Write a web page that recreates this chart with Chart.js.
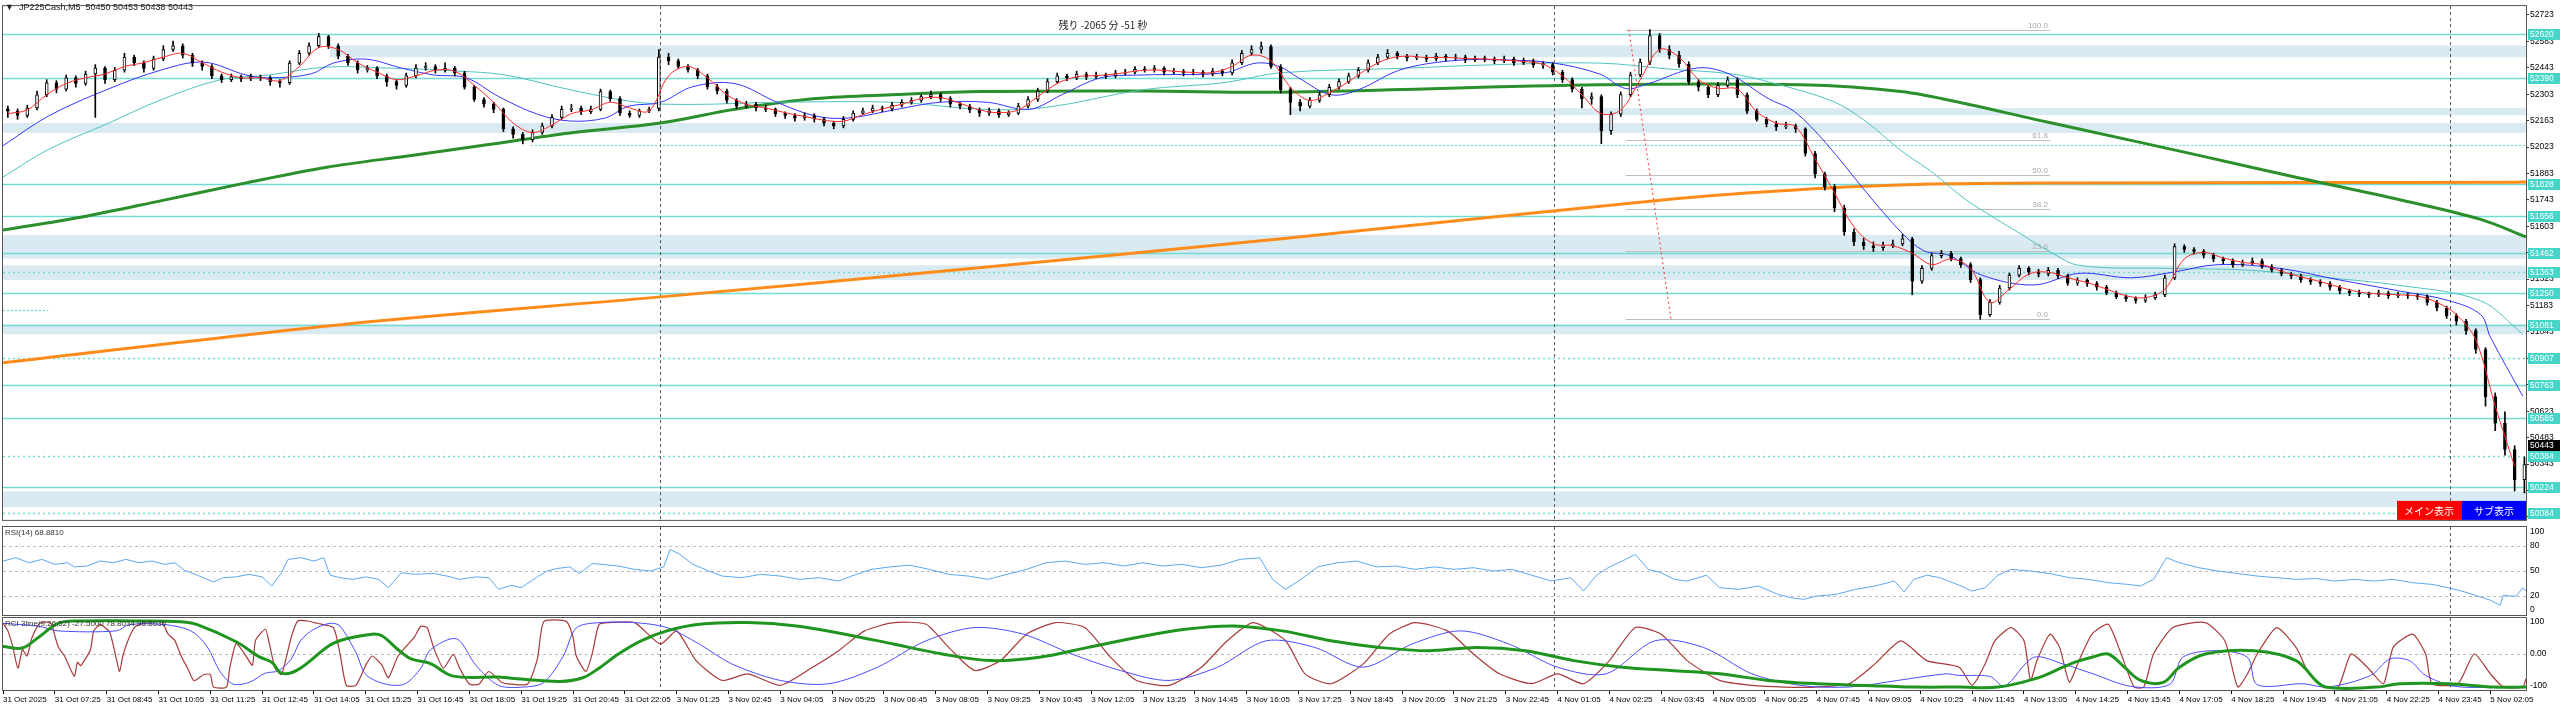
<!DOCTYPE html>
<html><head><meta charset="utf-8">
<script src="https://cdn.jsdelivr.net/npm/chart.js@4.4.1/dist/chart.umd.min.js"></script>
<style>
html,body{margin:0;padding:0;background:#fff;overflow:hidden;width:2560px;height:709px}
canvas{position:absolute;left:0}
#main{top:0}#rsi{top:526px}#rci{top:617px}
</style></head><body>
<canvas id="main" width="2560" height="526"></canvas>
<canvas id="rsi" width="2560" height="91"></canvas>
<canvas id="rci" width="2560" height="92"></canvas>
<script>
// --- ローソク足 (3本まとめ、M5) ---
const opens = [52225,52213,52190,52230,52300,52364,52330,52390,52360,52410,
52442,52380,52430,52500,52470,52440,52490,52540,52560,52510,
52468,52450,52400,52380,52395,52385,52395,52390,52370,52364,
52468,52520,52560,52608,52560,52504,52470,52432,52440,52400,
52370,52350,52400,52442,52450,52430,52440,52416,52340,52275,
52250,52223,52119,52090,52062,52100,52135,52180,52223,52230,
52210,52223,52317,52280,52203,52190,52215,52228,52500,52480,
52450,52432,52400,52343,52320,52270,52239,52250,52230,52223,
52200,52190,52177,52190,52171,52150,52135,52170,52203,52215,
52230,52225,52245,52260,52270,52290,52301,52280,52250,52239,
52220,52203,52215,52195,52203,52240,52275,52320,52370,52400,
52390,52410,52395,52405,52400,52415,52420,52435,52432,52440,
52420,52425,52416,52420,52410,52425,52416,52470,52520,52540,
52556,52450,52327,52260,52240,52270,52300,52340,52370,52400,
52430,52470,52500,52520,52505,52495,52500,52490,52505,52495,
52500,52485,52495,52490,52480,52490,52470,52480,52460,52460,
52420,52380,52330,52280,52290,52110,52197,52301,52405,52473,
52614,52540,52510,52463,52369,52340,52301,52350,52379,52300,
52213,52170,52145,52130,52135,52119,51989,51880,51812,51700,
51573,51520,51500,51490,51500,51510,51536,51312,51380,51448,
51460,51432,51400,51320,51135,51200,51276,51344,51380,51360,
51350,51370,51340,51302,51318,51300,51280,51250,51230,51220,
51210,51225,51240,51330,51495,51480,51470,51450,51430,51420,
51400,51410,51420,51390,51370,51350,51340,51320,51310,51300,
51280,51260,51250,51245,51240,51250,51235,51240,51235,51230,
51200,51170,51130,51100,51050,50950,50700,50560,50420,50260];
const highs = [52240,52225,52245,52320,52380,52375,52405,52400,52425,52460,
52450,52445,52520,52510,52480,52505,52560,52585,52570,52520,
52480,52460,52410,52410,52405,52410,52405,52400,52380,52480,
52535,52575,52625,52615,52570,52515,52480,52455,52450,52410,
52380,52415,52460,52470,52460,52470,52450,52425,52350,52285,
52260,52230,52130,52100,52115,52150,52195,52240,52250,52240,
52240,52330,52325,52290,52215,52225,52235,52540,52520,52490,
52460,52440,52410,52355,52330,52280,52265,52260,52245,52230,
52210,52200,52205,52200,52180,52160,52185,52215,52230,52245,
52240,52260,52275,52285,52300,52320,52310,52290,52260,52250,
52230,52230,52225,52215,52255,52290,52335,52385,52415,52410,
52425,52420,52420,52415,52430,52435,52450,52450,52455,52450,
52440,52435,52435,52430,52440,52435,52485,52535,52560,52580,
52565,52460,52340,52275,52285,52315,52355,52385,52415,52445,
52485,52515,52540,52530,52515,52515,52510,52520,52515,52515,
52510,52505,52505,52500,52505,52500,52495,52490,52475,52470,
52430,52390,52340,52310,52300,52210,52315,52420,52490,52645,
52625,52560,52530,52475,52380,52350,52365,52395,52390,52310,
52225,52180,52160,52155,52145,52125,52000,51890,51825,51715,
51590,51540,51520,51520,51530,51560,51545,51395,51460,51475,
51470,51440,51410,51330,51215,51290,51355,51395,51390,51375,
51385,51380,51350,51330,51325,51310,51290,51260,51240,51230,
51240,51255,51345,51510,51505,51490,51480,51460,51440,51430,
51425,51435,51430,51400,51380,51360,51350,51330,51320,51310,
51290,51270,51265,51255,51265,51260,51255,51250,51245,51240,
51210,51180,51140,51110,51060,50960,50720,50620,50440,50380];
const lows = [52180,52170,52180,52220,52290,52310,52320,52340,52350,52180,
52360,52370,52420,52455,52420,52430,52480,52530,52495,52450,
52430,52385,52365,52370,52370,52375,52375,52350,52340,52355,
52460,52510,52550,52545,52490,52455,52415,52420,52385,52345,
52330,52340,52390,52430,52415,52420,52400,52330,52265,52235,
52205,52105,52070,52040,52050,52090,52125,52170,52210,52195,
52200,52215,52265,52190,52180,52180,52205,52215,52460,52440,
52420,52385,52330,52305,52255,52225,52230,52215,52210,52185,
52175,52160,52165,52155,52135,52120,52125,52160,52195,52205,
52210,52215,52235,52250,52260,52280,52265,52235,52225,52205,
52185,52190,52180,52185,52195,52230,52265,52310,52360,52375,
52380,52380,52385,52385,52390,52405,52410,52420,52420,52405,
52410,52400,52405,52395,52400,52400,52405,52460,52510,52520,
52440,52310,52195,52215,52230,52260,52290,52330,52360,52390,
52420,52460,52490,52490,52480,52485,52475,52480,52480,52485,
52470,52475,52475,52465,52470,52455,52460,52445,52440,52405,
52365,52315,52230,52250,52041,52090,52185,52290,52395,52460,
52525,52490,52445,52355,52320,52285,52290,52340,52285,52200,
52160,52130,52110,52120,52100,51975,51860,51795,51680,51555,
51500,51480,51470,51475,51490,51500,51240,51300,51370,51435,
51420,51385,51305,51110,51125,51190,51265,51335,51345,51335,
51340,51325,51290,51290,51285,51265,51240,51220,51205,51195,
51200,51215,51230,51320,51465,51455,51435,51415,51405,51385,
51390,51400,51380,51360,51340,51325,51305,51295,51285,51265,
51245,51235,51230,51225,51230,51220,51225,51220,51215,51185,
51155,51115,51080,51030,50930,50650,50520,50390,50200,50190];
const closes = [52213,52190,52230,52300,52364,52330,52390,52360,52410,52442,
52380,52430,52500,52470,52440,52490,52540,52560,52510,52468,
52450,52400,52380,52395,52385,52395,52390,52370,52364,52468,
52520,52560,52608,52560,52504,52470,52432,52440,52400,52370,
52350,52400,52442,52450,52430,52440,52416,52340,52275,52250,
52223,52119,52090,52062,52100,52135,52180,52223,52230,52210,
52223,52317,52280,52203,52190,52215,52223,52500,52480,52450,
52432,52400,52343,52320,52270,52239,52250,52230,52223,52200,
52190,52177,52190,52171,52150,52135,52170,52203,52215,52230,
52225,52245,52260,52270,52290,52301,52280,52250,52239,52220,
52203,52215,52195,52203,52240,52275,52320,52370,52400,52390,
52410,52395,52405,52400,52415,52420,52435,52432,52440,52420,
52425,52416,52420,52410,52425,52416,52470,52520,52540,52556,
52450,52327,52260,52240,52270,52300,52340,52370,52400,52430,
52470,52500,52520,52505,52495,52500,52490,52505,52495,52500,
52485,52495,52490,52480,52490,52470,52480,52460,52460,52420,
52380,52330,52280,52290,52110,52197,52301,52405,52473,52614,
52540,52510,52463,52369,52340,52301,52350,52379,52300,52213,
52170,52145,52130,52135,52119,51989,51880,51812,51700,51573,
51520,51500,51490,51500,51510,51536,51312,51380,51448,51460,
51432,51400,51320,51135,51200,51276,51344,51380,51360,51350,
51370,51340,51302,51318,51300,51280,51250,51230,51220,51210,
51225,51240,51330,51495,51480,51470,51450,51430,51420,51400,
51410,51420,51390,51370,51350,51340,51320,51310,51300,51280,
51260,51250,51245,51240,51250,51235,51240,51235,51230,51200,
51170,51130,51100,51050,50950,50700,50560,50420,50260,50340];

// 短期MA (赤) : ローソク2本ごと
const redMA = [52200,52220,52300,52360,52390,52410,52450,52470,52500,52520,
52470,52420,52390,52390,52375,52450,52550,52540,52470,52420,
52380,52400,52430,52425,52350,52260,52150,52100,52140,52200,
52220,52260,52230,52215,52400,52450,52390,52300,52250,52230,
52205,52185,52165,52160,52195,52225,52250,52280,52285,52255,
52220,52205,52220,52290,52360,52395,52402,52410,52425,52432,
52425,52418,52418,52450,52510,52480,52340,52270,52310,52370,
52440,52490,52505,52497,52498,52492,52490,52484,52476,52462,
52400,52300,52200,52220,52380,52540,52500,52380,52335,52330,
52210,52150,52130,51960,51780,51600,51510,51500,51460,51400,
51430,51380,51200,51270,51350,51360,51330,51305,51270,51235,
51225,51270,51430,51465,51435,51412,51400,51365,51335,51310,
51280,51255,51245,51240,51233,51200,51135,51000,50650,50330];

// 中期MA (青) : 足番号, 値
const blueBars = [0,14,32,49,62,75,82,95,102,112,123,133,143,153,165,175,186,193,203,213,226,239,251,261,276,289,304,317,327,339,352,377,387,394,400,410,419,431,447,462,478,493,501,508,523,533,545,553,563,575,586,593,601,611,627,641,657,670,684,703,721,740,755,765,768,778];
const blueVals = [52030,52187,52327,52432,52473,52405,52390,52410,52468,52489,52442,52405,52390,52291,52197,52161,52177,52239,52260,52343,52359,52260,52187,52177,52223,52260,52260,52223,52301,52390,52405,52416,52468,52450,52390,52300,52330,52430,52480,52485,52470,52410,52333,52359,52442,52410,52280,52213,52041,51790,51573,51474,51448,51344,51292,51354,51330,51360,51400,51380,51320,51260,51210,51135,51016,50703];
// 長めMA (水色)
const tealBars = [0,14,32,49,67,82,100,118,140,155,175,196,213,239,276,302,322,352,377,394,431,462,493,514,534,545,565,575,586,596,606,622,632,641,669,694,718,740,765,778];
const tealVals = [51864,52010,52145,52275,52379,52405,52447,52442,52426,52405,52327,52260,52249,52260,52260,52223,52233,52327,52364,52416,52440,52460,52468,52437,52410,52369,52265,52161,52005,51885,51745,51573,51469,51396,51380,51370,51330,51290,51208,51031];
// 長期MA (緑・太)
const greenBars = [0,24,49,75,100,125,150,175,203,226,251,276,302,352,394,493,555,586,607,627,641,678,709,740,765,779];
const greenVals = [51583,51651,51739,51833,51916,51976,52036,52098,52150,52223,52280,52301,52317,52320,52314,52353,52353,52317,52249,52171,52119,51979,51859,51744,51640,51547];
// 超長期MA (オレンジ・太)
const orangeBars = [0,105,203,289,394,517,565,600,641,709,775,779];
const orangeVals = [50880,51083,51229,51363,51536,51750,51807,51828,51833,51835,51836,51838];

// 水平線と価格ラベル
const levelPrices = [52620,52390,51828,51656,51462,51363,51250,51081,50907,50763,50585,50384,50224,50084];
const levelStyle = ['solid','solid','solid','solid','solid','dash','solid','solid','dash','solid','solid','dash','solid','dash'];
const extraLevels = [52033, 51157];
const extraFrom = [163, 0];
const extraTo = [779, 14];
const lastPrice = 50443;
// ゾーン (帯)
const bandLow = [52499,52192,52098,51432,51318,51031,50115];
const bandHigh = [52561,52229,52150,51557,51396,51083,50198];
const bandStart = [101,397,0,0,0,0,0];
// フィボナッチ
const fibLevels = [100, 61.8, 50, 38.2, 23.6, 0];
const fibHigh = 52645, fibLow = 51110, fibFrom = 501, fibTo = 632;
const fibDiag = [502, 515];

const yTicks = [52723,52583,52443,52303,52163,52023,51883,51743,51603,51463,51323,51183,51043,50903,50763,50623,50483,50343,50203,50063];
const daySeps = [203, 479, 755.5];
const timeLabels = ["31 Oct 2025","31 Oct 07:25","31 Oct 08:45","31 Oct 10:05","31 Oct 11:25","31 Oct 12:45","31 Oct 14:05","31 Oct 15:25","31 Oct 16:45","31 Oct 18:05","31 Oct 19:25","31 Oct 20:45","31 Oct 22:05","3 Nov 01:25","3 Nov 02:45","3 Nov 04:05","3 Nov 05:25","3 Nov 06:45","3 Nov 08:05","3 Nov 09:25","3 Nov 10:45","3 Nov 12:05","3 Nov 13:25","3 Nov 14:45","3 Nov 16:05","3 Nov 17:25","3 Nov 18:45","3 Nov 20:05","3 Nov 21:25","3 Nov 22:45","4 Nov 01:05","4 Nov 02:25","4 Nov 03:45","4 Nov 05:05","4 Nov 06:25","4 Nov 07:45","4 Nov 09:05","4 Nov 10:25","4 Nov 11:45","4 Nov 13:05","4 Nov 14:25","4 Nov 15:45","4 Nov 17:05","4 Nov 18:25","4 Nov 19:45","4 Nov 21:05","4 Nov 22:25","4 Nov 23:45","5 Nov 02:05"];

// RSI(14)
const rsiBars = [0,4,8,12,16,20,22,26,30,34,38,42,46,50,53,56,60,65,68,72,76,80,83,86,88,92,96,99,101,104,108,112,116,119,123,127,133,137,141,146,150,153,157,160,165,168,171,175,178,182,185,190,195,200,204,206,209,213,218,222,228,234,240,246,252,258,262,268,274,280,286,292,298,304,310,316,322,328,334,340,346,352,358,364,370,376,382,388,392,396,400,406,412,418,424,430,436,442,448,454,460,466,472,478,484,488,492,496,500,504,508,512,516,520,526,530,536,542,548,552,556,560,566,572,578,584,587,590,594,598,604,608,612,616,620,626,632,638,644,650,656,660,664,668,672,678,684,690,696,702,708,714,720,726,732,738,744,750,755,760,764,768,771,772,774,776,778,779];
const rsiVals = [62,66,60,64,58,60,55,56,62,60,64,60,62,58,60,51,45,37,42,43,46,43,32,48,64,66,62,66,45,42,40,43,40,30,48,46,47,44,40,43,42,28,33,30,43,50,53,55,47,59,58,56,52,50,55,76,70,58,50,44,42,46,44,40,42,38,44,52,55,57,52,46,44,40,46,52,60,62,58,60,56,60,56,58,54,57,64,66,40,28,38,55,60,62,55,56,52,55,52,54,50,52,45,38,42,26,45,55,62,70,52,48,40,38,45,30,28,32,22,18,16,20,22,28,32,38,25,40,45,42,33,26,30,45,52,50,47,42,40,36,34,32,40,66,60,54,50,47,44,42,40,41,38,40,38,40,36,34,30,25,20,15,9,21,20,20,30,26];

// RCI 3line (9,26,52)
const rciRedBars = [0,1.5,3,4.6,6,7.4,9,11,12,14,15,17,19,22,23,24,27,28,30,31,33,35,36,37,39,41,46,49,51,53,55,57,59,62,64,65,69,70,72,75,77,78,81,82,84,86,89,91,94,97,102,104,106,109,112,114,117,119,122,127,129,131,133,136,139,141,144,147,150,154,157,162,165,167,174,176,177,180,182,184,
187,195,203,208,214,222,230,240,250,258,266,275,285,292,300,308,316,325,334,342,350,360,370,378,386,396,402,410,420,428,436,446,454,462,472,480,488,496,504,512,520,530,540,550,560,570,578,586,594,
604,608,612,615,620,624,626,628,632,635,638,641,645,650,654,658,661,664,670,680,686,690,693,696,702,708,712,716,721,725,730,735,738,744,748,750,758,763,768,772,778,779];
const rciRedVals = [93,70,23,-43,13,-6,51,89,96,96,90,23,-6,-67,-25,-35,13,70,89,84,65,-15,-53,-6,51,84,98,98,60,42,-6,-43,-81,-62,-62,-100,-100,-43,32,-6,-34,42,75,42,-43,-62,51,100,100,93,80,4,-95,-95,-34,-6,-34,-72,-6,51,84,79,18,-43,-1,-43,-91,-91,-53,-86,-91,-91,-15,98,98,51,-6,-53,4,89,
95,95,30,70,-20,-80,-60,-95,-40,10,70,95,90,20,-50,-20,60,95,80,-10,-80,-95,-40,40,95,40,-60,-90,-30,60,95,70,0,-60,-90,-60,-90,-20,80,60,-20,-80,-95,-100,-100,-90,-30,40,-20,
-40,-95,-30,40,80,40,-80,-20,60,20,-85,-20,60,90,0,-100,-100,0,80,95,40,-100,-60,0,80,20,-60,-95,-100,0,-40,-90,20,60,0,-90,-90,0,-60,-100,-100,-75];
const rciBlueBars = [0,11,17,35,39,50,58,63,67,71,76,81,85,89,92,96,101,104,109,112,118,124,129,132,140,146,153,161,167,173,177,184,
195,205,215,225,240,255,270,285,300,315,330,345,360,375,390,405,420,435,450,465,480,495,510,525,540,555,570,585,600,
604,611,614,618,627,636,645,657,669,673,683,693,696,710,718,731,737,743,748,757,771,779];
const rciBlueVals = [93,84,70,70,89,89,70,23,-53,-91,-86,-58,-51,-15,42,75,93,85,4,-62,-91,-91,-43,13,46,-34,-95,-100,-86,-6,79,95,
95,80,30,-30,-80,-90,-40,40,80,60,0,-50,-80,-40,40,20,-40,30,70,30,-40,-60,40,20,-60,-95,-100,-80,-60,
-65,-65,-70,-98,-10,-30,-59,-98,-92,-10,10,-10,-93,-90,-100,-65,-15,-20,-65,-98,-100,-100];
const rciGreenBars = [0,6,11,17,23,40,55,60,72,79,83,86,91,101,106,114,117,122,126,132,139,153,160,172,179,184,
190,197,205,215,230,245,260,275,290,305,320,335,350,365,380,395,410,425,440,455,470,485,500,515,530,545,560,575,590,
604,616,628,636,640,645,650,655,660,667,672,680,695,708,717,733,740,755,769,779];
const rciGreenVals = [23,18,51,93,100,100,98,89,37,-8,-25,-58,-48,27,46,60,55,13,-15,-29,-67,-70,-76,-83,-72,-43,
0,40,70,90,95,85,60,30,0,-20,-10,20,50,75,85,70,40,20,10,20,10,-20,-40,-50,-60,-80,-90,-95,-100,
-100,-100,-73,-40,-24,-10,0,-40,-80,-86,-40,0,10,-20,-100,-100,-90,-90,-100,-100];

const FAM = '"Liberation Sans", "DejaVu Sans", Arial, sans-serif';
const JP = '"Noto Sans CJK JP", "Noto Sans", sans-serif';
const pts = (bars, vals) => bars.map((b, k) => ({ x: b, y: vals[k] }));
const lineDs = (data, color, width) => ({ type: 'line', data, borderColor: color, borderWidth: width, pointRadius: 0, tension: 0.35, fill: false });
const xHidden = { type: 'linear', min: 0, max: 779, display: false, offset: false, grid: { offset: false } };
const rightAxis = (min, max, extra) => Object.assign({
  type: 'linear', position: 'right', min, max,
  afterFit: s => { s.width = 34; },
  grid: { drawOnChartArea: false, drawTicks: false },
  border: { color: '#555' },
  ticks: { display: false }
}, extra || {});

function vline(ctx, a, x, dash, color) {
  ctx.save(); ctx.strokeStyle = color; ctx.lineWidth = 1; ctx.setLineDash(dash);
  ctx.beginPath(); ctx.moveTo(Math.round(x) + 0.5, a.top); ctx.lineTo(Math.round(x) + 0.5, a.bottom); ctx.stroke(); ctx.restore();
}
function hline(ctx, x0, x1, y, dash, color, w) {
  ctx.save(); ctx.strokeStyle = color; ctx.lineWidth = w; ctx.setLineDash(dash);
  ctx.beginPath(); ctx.moveTo(x0, y); ctx.lineTo(x1, y); ctx.stroke(); ctx.restore();
}
function frame(ctx, a) {
  ctx.save(); ctx.strokeStyle = '#555'; ctx.lineWidth = 1;
  ctx.strokeRect(a.left - 0.5, a.top - 0.5, a.right - a.left + 1, a.bottom - a.top + 1); ctx.restore();
}

// --- メインチャート ---
const mainDeco = {
  id: 'mainDeco',
  beforeDatasetsDraw(chart) {
    const { ctx, chartArea: a, scales: { x, y } } = chart;
    ctx.save();
    ctx.beginPath(); ctx.rect(a.left, a.top, a.right - a.left, a.bottom - a.top); ctx.clip();
    ctx.fillStyle = '#d9eaf2';
    bandLow.forEach((lo, k) => {
      const x0 = x.getPixelForValue(bandStart[k]);
      const yt = y.getPixelForValue(bandHigh[k]), yb = y.getPixelForValue(lo);
      ctx.fillRect(x0, yt, a.right - x0, yb - yt);
    });
    levelPrices.forEach((p, k) => {
      const yy = Math.round(y.getPixelForValue(p)) + 0.5;
      hline(ctx, a.left, a.right, yy, levelStyle[k] === 'solid' ? [] : [2, 3], '#70dcd3', 1.5);
    });
    extraLevels.forEach((p, k) => {
      const yy = Math.round(y.getPixelForValue(p)) + 0.5;
      hline(ctx, x.getPixelForValue(extraFrom[k]), x.getPixelForValue(extraTo[k]), yy, [2, 2], '#70dcd3', 1.2);
    });
    daySeps.forEach(b => vline(ctx, a, x.getPixelForValue(b), [3, 3], '#555'));
    const fx0 = x.getPixelForValue(fibFrom), fx1 = x.getPixelForValue(fibTo);
    ctx.font = '8px ' + FAM; ctx.fillStyle = '#aaa'; ctx.textAlign = 'right'; ctx.textBaseline = 'bottom';
    fibLevels.forEach(l => {
      const yy = Math.round(y.getPixelForValue(fibLow + (fibHigh - fibLow) * l / 100)) + 0.5;
      hline(ctx, fx0, fx1, yy, [], '#bdbdbd', 1);
      ctx.fillText(l.toFixed(1), fx1 - 2, yy - 1);
    });
    ctx.strokeStyle = '#ff3030'; ctx.lineWidth = 1; ctx.setLineDash([2, 3]);
    ctx.beginPath(); ctx.moveTo(x.getPixelForValue(fibDiag[0]), y.getPixelForValue(fibHigh));
    ctx.lineTo(x.getPixelForValue(fibDiag[1]), y.getPixelForValue(fibLow)); ctx.stroke();
    ctx.restore();
  },
  afterDraw(chart) {
    const { ctx, chartArea: a, scales: { y } } = chart;
    ctx.save();
    frame(ctx, a);
    ctx.font = '8.5px ' + FAM; ctx.textBaseline = 'middle'; ctx.textAlign = 'left';
    levelPrices.forEach(p => {
      const yy = Math.round(y.getPixelForValue(p));
      ctx.fillStyle = '#46d6c9'; ctx.fillRect(a.right + 2, yy - 5, 32, 11);
      ctx.fillStyle = '#fff'; ctx.fillText(String(p), a.right + 4, yy + 0.5);
    });
    const yl = Math.round(y.getPixelForValue(lastPrice));
    ctx.fillStyle = '#000'; ctx.fillRect(a.right + 2, yl - 5, 32, 11);
    ctx.fillStyle = '#fff'; ctx.fillText(String(lastPrice), a.right + 4, yl + 0.5);
    // ヘッダー
    ctx.fillStyle = '#222'; ctx.font = '9px ' + FAM;
    ctx.fillText('\u25BC  JP225Cash,M5  50450 50453 50438 50443', 5, 8);
    ctx.font = '10px ' + JP; ctx.textAlign = 'center';
    ctx.fillText('残り -2065 分 -51 秒', 1103, 25);
    // ボタン
    ctx.fillStyle = '#ff0000'; ctx.fillRect(2397, a.bottom - 19, 65, 19);
    ctx.fillStyle = '#0000ff'; ctx.fillRect(2462, a.bottom - 19, 64, 19);
    ctx.fillStyle = '#fff';
    ctx.fillText('メイン表示', 2429, a.bottom - 9);
    ctx.fillText('サブ表示', 2494, a.bottom - 9);
    ctx.restore();
  }
};

new Chart(document.getElementById('main'), {
  type: 'bar',
  data: {
    datasets: [
      lineDs(pts(redMA.map((v, j) => j * 6 + 1.5), redMA), '#ff2a2a', 1),
      { type: 'bar', data: closes.map((c, i) => ({ x: i * 3 + 1.5, y: [opens[i], c] })), grouped: false, barThickness: 3,
        backgroundColor: closes.map((c, i) => c >= opens[i] ? '#ffffff' : '#000000'), borderColor: '#000', borderWidth: 1, borderSkipped: false, minBarLength: 1 },
      { type: 'bar', data: closes.map((c, i) => ({ x: i * 3 + 1.5, y: [lows[i], highs[i]] })), grouped: false, barThickness: 1, backgroundColor: '#000' },
      lineDs(pts(blueBars, blueVals), '#3434ff', 1),
      lineDs(pts(tealBars, tealVals), '#4fc4c0', 1),
      lineDs(pts(greenBars, greenVals), '#2b8f2b', 3),
      lineDs(pts(orangeBars, orangeVals), '#ff8c1a', 3)
    ]
  },
  options: {
    responsive: false, animation: false, devicePixelRatio: 1,
    layout: { padding: { left: 3, top: 3, right: 0, bottom: 1 } },
    plugins: { legend: { display: false }, tooltip: { enabled: false } },
    scales: {
      x: xHidden,
      y: rightAxis(50047, 52770, {
        afterBuildTicks: s => { s.ticks = yTicks.map(v => ({ value: v })); },
        grid: { drawOnChartArea: false, drawTicks: true, tickLength: 3, color: '#333' },
        ticks: { display: true, padding: 1, color: '#000', font: { family: FAM, size: 8.5 }, callback: v => String(v) }
      })
    }
  },
  plugins: [mainDeco]
});

// --- RSI ---
const rsiDeco = {
  id: 'rsiDeco',
  beforeDatasetsDraw(chart) {
    const { ctx, chartArea: a, scales: { x, y } } = chart;
    [80, 50, 20].forEach(v => hline(ctx, a.left, a.right, Math.round(y.getPixelForValue(v)) + 0.5, [3, 3], '#bbb', 1));
    daySeps.forEach(b => vline(ctx, a, x.getPixelForValue(b), [3, 3], '#555'));
  },
  afterDraw(chart) {
    const { ctx, chartArea: a, scales: { y } } = chart;
    frame(ctx, a);
    ctx.save(); ctx.font = '8.5px ' + FAM; ctx.fillStyle = '#000'; ctx.textBaseline = 'middle'; ctx.textAlign = 'left';
    [100, 80, 50, 20, 0].forEach(v => {
      const yy = Math.min(a.bottom - 5, Math.max(a.top + 5, y.getPixelForValue(v)));
      ctx.fillText(String(v), a.right + 4, yy);
    });
    ctx.fillStyle = '#333'; ctx.font = '8px ' + FAM;
    ctx.fillText('RSI(14) 68.8810', a.left + 2, a.top + 6);
    ctx.restore();
  }
};
new Chart(document.getElementById('rsi'), {
  type: 'line',
  data: { datasets: [ { data: pts(rsiBars, rsiVals), borderColor: '#5aa8f2', borderWidth: 1, pointRadius: 0, tension: 0 } ] },
  options: {
    responsive: false, animation: false, devicePixelRatio: 1,
    layout: { padding: { left: 3, top: 1, right: 0, bottom: 2 } },
    plugins: { legend: { display: false }, tooltip: { enabled: false } },
    scales: { x: xHidden, y: rightAxis(-2.8, 102.9) }
  },
  plugins: [rsiDeco]
});

// --- RCI 3line ---
const rciDeco = {
  id: 'rciDeco',
  beforeDatasetsDraw(chart) {
    const { ctx, chartArea: a, scales: { x, y } } = chart;
    hline(ctx, a.left, a.right, Math.round(y.getPixelForValue(0)) + 0.5, [3, 3], '#bbb', 1);
    daySeps.forEach(b => vline(ctx, a, x.getPixelForValue(b), [3, 3], '#555'));
  },
  afterDraw(chart) {
    const { ctx, chartArea: a, scales: { y } } = chart;
    frame(ctx, a);
    ctx.save(); ctx.font = '8.5px ' + FAM; ctx.fillStyle = '#000'; ctx.textBaseline = 'middle'; ctx.textAlign = 'left';
    [[100, '100'], [0, '0.00'], [-100, '-100']].forEach(([v, t]) => {
      const yy = Math.min(a.bottom - 4, Math.max(a.top + 4, y.getPixelForValue(v)));
      ctx.fillText(t, a.right + 4, yy);
    });
    ctx.fillStyle = '#333'; ctx.font = '8px ' + FAM;
    ctx.fillText('RCI 3line(9,26,52) -27.5000 78.8034 95.8636', a.left + 2, a.top + 6);
    ctx.restore();
  }
};
new Chart(document.getElementById('rci'), {
  type: 'line',
  data: { datasets: [
    { data: pts(rciGreenBars, rciGreenVals), borderColor: '#1f951f', borderWidth: 3, pointRadius: 0, tension: 0.35 },
    { data: pts(rciBlueBars, rciBlueVals), borderColor: '#4b4bff', borderWidth: 1, pointRadius: 0, tension: 0.3 },
    { data: pts(rciRedBars, rciRedVals), borderColor: '#a83a3a', borderWidth: 1.2, pointRadius: 0, tension: 0.2 }
  ] },
  options: {
    responsive: false, animation: false, devicePixelRatio: 1,
    layout: { padding: { left: 3, top: 1, right: 0, bottom: 0 } },
    plugins: { legend: { display: false }, tooltip: { enabled: false } },
    scales: {
      x: { type: 'linear', min: 0, max: 779, position: 'bottom', offset: false,
        afterBuildTicks: s => { s.ticks = timeLabels.map((t, k) => ({ value: k * 16 })); },
        afterFit: s => { s.height = 19; },
        grid: { drawOnChartArea: false, drawTicks: true, tickLength: 4, color: '#000', offset: false },
        border: { color: '#333' },
        ticks: { autoSkip: false, maxRotation: 0, align: 'start', padding: 1, color: '#000', font: { family: FAM, size: 8 }, callback: (v, k) => timeLabels[k] } },
      y: rightAxis(-109, 109)
    }
  },
  plugins: [rciDeco]
});
</script>
</body></html>
